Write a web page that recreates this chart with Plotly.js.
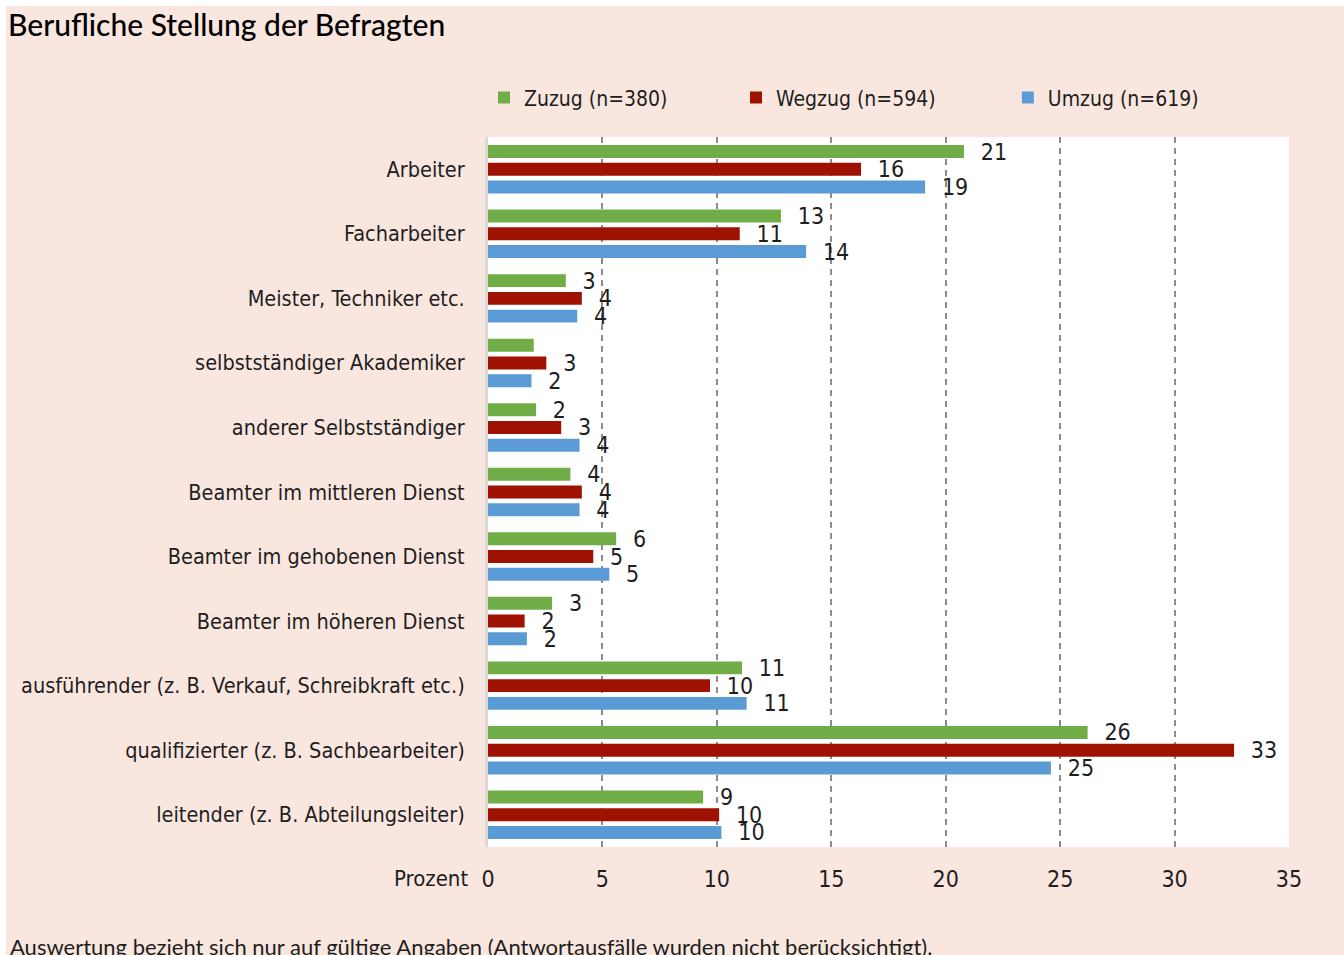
<!DOCTYPE html>
<html>
<head>
<meta charset="utf-8">
<script src="https://cdn.plot.ly/plotly-3.0.1.min.js"></script>
<style>
html,body{margin:0;padding:0;background:#ffffff;}
#chart{position:absolute;left:6px;top:6px;width:1338px;height:949px;}
</style>
</head>
<body>
<div id="chart"></div>
<script>
var categories = ["Arbeiter","Facharbeiter","Meister, Techniker etc.","selbstständiger Akademiker","anderer Selbstständiger","Beamter im mittleren Dienst","Beamter im gehobenen Dienst","Beamter im höheren Dienst","ausführender (z. B. Verkauf, Schreibkraft etc.)","qualifizierter (z. B. Sachbearbeiter)","leitender (z. B. Abteilungsleiter)"];
var zuzug  = [20.8, 12.8, 3.4, 2.0, 2.1, 3.6, 5.6, 2.8, 11.1, 26.2, 9.4];
var wegzug = [16.3, 11.0, 4.1, 2.55, 3.2, 4.1, 4.6, 1.6, 9.7, 32.6, 10.1];
var umzug  = [19.1, 13.9, 3.9, 1.9, 4.0, 4.0, 5.3, 1.7, 11.3, 24.6, 10.2];
var zuzugLabels  = ["21","13","3","","2","4","6","3","11","26","9"];
var wegzugLabels = ["16","11","4","3","3","4","5","2","10","33","10"];
var umzugLabels  = ["19","14","4","2","4","4","5","2","11","25","10"];
var seriesNames = ["Zuzug (n=380)","Wegzug (n=594)","Umzug (n=619)"];
var xTicks = [0,5,10,15,20,25,30,35];

var FONT = "'DejaVu Sans Condensed', 'Liberation Sans Narrow', sans-serif";
var TXT = "#1e1e1e";
function pad(a){ return a.map(function(s){ return s === "" ? "" : "\u2002\u2006" + s; }); }

function mk(vals, labels, name, color, leg){
  return {
    type: "bar", orientation: "h", x: vals, y: categories, name: name,
    marker: {color: color, line: {width: 0}},
    text: pad(labels), textposition: "outside", constraintext: "none", cliponaxis: false,
    textfont: {family: FONT, size: 23, color: TXT},
    hoverinfo: "x+y", legend: leg
  };
}
var data = [
  mk(zuzug, zuzugLabels, seriesNames[0], "#70ad47", "legend"),
  mk(wegzug, wegzugLabels, seriesNames[1], "#9f1100", "legend2"),
  mk(umzug, umzugLabels, seriesNames[2], "#5b9bd5", "legend3")
];

function leg(x){
  return {x: x, xref: "paper", xanchor: "left", y: 1.055, yref: "paper", yanchor: "middle",
    orientation: "h", bgcolor: "rgba(0,0,0,0)", borderwidth: 0, itemwidth: 30,
    font: {family: FONT, size: 21, color: TXT}};
}

var layout = {
  width: 1338, height: 949,
  paper_bgcolor: "#f9e7df", plot_bgcolor: "#ffffff",
  margin: {l: 482, r: 55, t: 131, b: 108, pad: 0},
  barmode: "group", bargap: 0.175, bargroupgap: 0.27,
  showlegend: true,
  legend: leg(-0.005), legend2: leg(0.3096), legend3: leg(0.649),
  title: {text: "Berufliche Stellung der Befragten", x: 2/1338, xref: "container", xanchor: "left",
    y: 0.979, yref: "container", yanchor: "middle",
    font: {family: "Lato, 'Liberation Sans', sans-serif", size: 30, color: "#000000", weight: 500}},
  xaxis: {range: [0, 35], tickvals: xTicks, ticktext: xTicks.map(String), showgrid: true,
    gridcolor: "#8c8c8c", gridwidth: 2, griddash: "6px,5px", zeroline: false, showline: false,
    ticks: "", ticklabelstandoff: 16, tickfont: {family: FONT, size: 23, color: TXT}, fixedrange: true},
  yaxis: {autorange: "reversed", type: "category", showgrid: false, zeroline: false,
    showline: true, linecolor: "#d9d9d9", linewidth: 3, ticks: "", ticklabelstandoff: 16,
    tickfont: {family: FONT, size: 21.5, color: TXT}, fixedrange: true},
  annotations: [
    {text: "Prozent", xref: "paper", yref: "paper", x: 0, y: 0, xanchor: "right", yanchor: "middle",
      xshift: -18, yshift: -31, showarrow: false, font: {family: FONT, size: 22, color: TXT}},
    {text: "Auswertung bezieht sich nur auf gültige Angaben (Antwortausfälle wurden nicht berücksichtigt).",
      xref: "paper", yref: "paper", x: (2 - 482) / 801, y: (841 - 925) / 710, xanchor: "left", yanchor: "top",
      showarrow: false, font: {family: "Lato, 'Liberation Sans', sans-serif", size: 22, color: TXT}}
  ]
};
Plotly.newPlot("chart", data, layout, {displayModeBar: false, staticPlot: true});
</script>
</body>
</html>
